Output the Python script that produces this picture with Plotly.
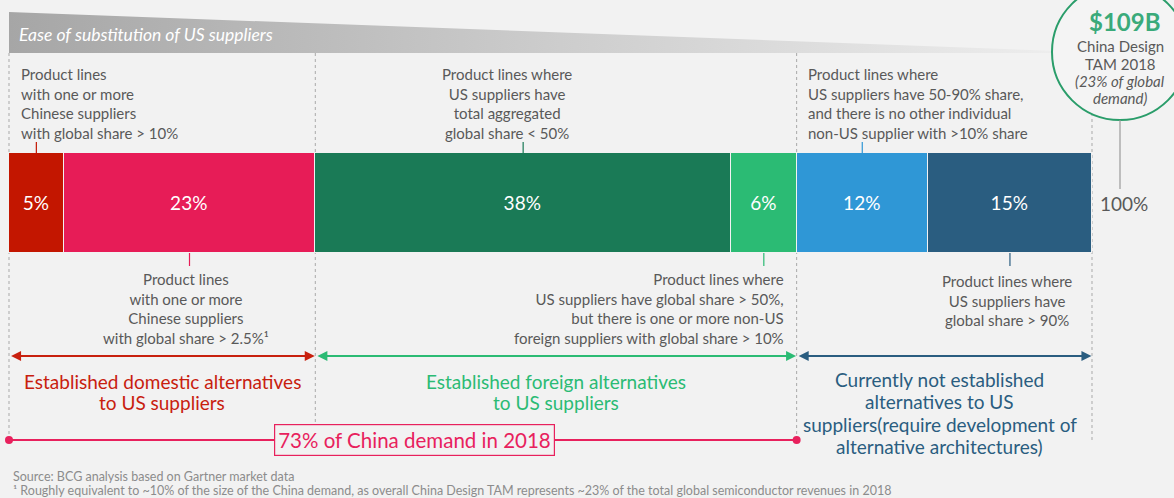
import plotly.graph_objects as go

# ---------------- data ----------------
segments = ["Chinese suppliers >10%", "Chinese suppliers >2.5%", "US aggregated share <50%",
            "US share >50%, foreign >10%", "US share 50-90%", "US share >90%"]
values = [5, 23, 38, 6, 12, 15]
bar_labels = ["5%", "23%", "38%", "6%", "12%", "15%"]
total_label = "100%"

top_notes = [
    "Product lines<br>with one or more<br>Chinese suppliers<br>with global share > 10%",
    "Product lines where<br>US suppliers have<br>total aggregated<br>global share < 50%",
    "Product lines where<br>US suppliers have 50-90% share,<br>and there is no other individual<br>non-US supplier with >10% share",
]
bottom_notes = [
    "Product lines<br>with one or more<br>Chinese suppliers<br>with global share > 2.5%¹",
    "Product lines where<br>US suppliers have global share > 50%,<br>but there is one or more non-US<br>foreign suppliers with global share > 10%",
    "Product lines where<br>US suppliers have<br>global share > 90%",
]
groups = [["Established domestic alternatives", "to US suppliers"],
          ["Established foreign alternatives", "to US suppliers"],
          ["Currently not established", "alternatives to US",
           "suppliers(require development of", "alternative architectures)"]]
group_ends = [2, 4, 6]  # segment index boundaries
demand_label = "73% of China demand in 2018"
header = "Ease of substitution of US suppliers"
tam_lines = ["$109B", "China Design", "TAM 2018", "(23% of global", "demand)"]
source = "Source: BCG analysis based on Gartner market data"
footnote = "¹ Roughly equivalent to ~10% of the size of the China demand, as overall China Design TAM represents ~23% of the total global semiconductor revenues in 2018"

# ---------------- styles ----------------
colors = ["#c31600", "#e71c57", "#1a7a56", "#2bbb74", "#2f97d6", "#2a5d80"]
group_colors = ["#c8200e", "#2bbb74", "#2a5d80"]
PINK = "#e8215d"
GRAY = "#595959"
BG = "#f2f2f2"
FONT = "Lato"

W, H = 1174, 498
X0, X1 = 9, 1092
total = sum(values)
S = (X1 - X0) / total


def dx(px):
    return (px - X0) / S


cum = [0]
for v in values:
    cum.append(cum[-1] + v)
centers = [(cum[i] + cum[i + 1]) / 2 for i in range(len(values))]

BAR_Y = 203
BAR_TOP, BAR_BOT = 153, 253

fig = go.Figure()

# header gradient wedge
fig.add_trace(go.Scatter(
    x=[dx(9), dx(1112), dx(9), dx(9)], y=[12, 53, 53, 12],
    mode="lines", fill="toself", line=dict(width=0),
    fillgradient=dict(type="horizontal",
                      colorscale=[[0, "#a6a6a6"], [0.5, "#cdcdcd"], [1, "#f1f1f1"]]),
    hoverinfo="skip", showlegend=False))

for name, v, lab, c in zip(segments, values, bar_labels, colors):
    fig.add_trace(go.Bar(
        x=[v], y=[BAR_Y], orientation="h", width=BAR_BOT - BAR_TOP, name=name,
        marker=dict(color=c, line=dict(color=BG, width=1.5)),
        text=[lab], textposition="inside", insidetextanchor="middle", textangle=0,
        textfont=dict(color="white", size=19, family=FONT),
        hoverinfo="skip", showlegend=False))

# pink 73% line
fig.add_trace(go.Scatter(
    x=[0, cum[group_ends[1]]], y=[440, 440], mode="lines+markers",
    line=dict(color=PINK, width=2), marker=dict(color=PINK, size=8),
    hoverinfo="skip", showlegend=False))

shapes = []
annotations = []

# dashed dividers
bounds = [0] + [cum[g] for g in group_ends]
dash_bottoms = [440, 424, 440, 440]
for b, yb in zip(bounds, dash_bottoms):
    shapes.append(dict(type="line", xref="x", yref="y", x0=b, x1=b, y0=53, y1=yb,
                       line=dict(color="#a9a9a9", width=1, dash="dot"), layer="below"))

# group arrows and labels
starts = [0] + [cum[g] for g in group_ends[:-1]]
group_y0 = [381, 381, 379]
group_dy = [21, 21, 22.5]
for gi, (s, g, gc, gt) in enumerate(zip(starts, group_ends, group_colors, groups)):
    e = cum[g]
    annotations.append(dict(x=e - 0.05, y=356, ax=s + 0.05, ay=356, xref="x", yref="y",
                            axref="x", ayref="y", text="", showarrow=True,
                            arrowhead=2, arrowside="end+start", arrowsize=1,
                            arrowwidth=2, arrowcolor=gc, standoff=0, startstandoff=0))
    for li, line in enumerate(gt):
        annotations.append(dict(x=(s + e) / 2 + (0 if gi < 2 else -0.4),
                                y=group_y0[gi] + li * group_dy[gi], xref="x", yref="y",
                                text=line, showarrow=False, align="center",
                                font=dict(color=gc, size=19, family=FONT)))

# 73% box
annotations.append(dict(x=dx(414), y=440, xref="x", yref="y", text=demand_label,
                        showarrow=False, bgcolor=BG, bordercolor=PINK, borderwidth=1.2,
                        borderpad=3, font=dict(color=PINK, size=20.5, family=FONT)))

# top notes + connectors
top_idx = [0, 2, 4]
top_x = [dx(19), dx(507), dx(806)]
top_anchor = ["left", "center", "left"]
for n, i, xx, an in zip(top_notes, top_idx, top_x, top_anchor):
    annotations.append(dict(x=xx, y=103, xref="x", yref="y", text=n, showarrow=False,
                            xanchor=an, align=an, font=dict(color=GRAY, size=15, family=FONT)))
    shapes.append(dict(type="line", xref="x", yref="y", x0=centers[i], x1=centers[i],
                       y0=142, y1=BAR_TOP, line=dict(color=colors[i], width=1.2)))

# bottom notes + connectors
bot_idx = [1, 3, 5]
bot_x = [dx(186), dx(786), dx(1007)]
bot_anchor = ["center", "right", "center"]
bot_y = [308, 308, 300]
for n, i, xx, an, yy in zip(bottom_notes, bot_idx, bot_x, bot_anchor, bot_y):
    annotations.append(dict(x=xx, y=yy, xref="x", yref="y", text=n, showarrow=False,
                            xanchor=an, align="center" if an == "center" else "right",
                            font=dict(color=GRAY, size=15, family=FONT)))
    shapes.append(dict(type="line", xref="x", yref="y", x0=centers[i], x1=centers[i],
                       y0=BAR_BOT, y1=266, line=dict(color=colors[i], width=1.2)))

# 100%
annotations.append(dict(x=dx(1098), y=BAR_Y, xref="x", yref="y", text=total_label,
                        showarrow=False, xanchor="left",
                        font=dict(color=GRAY, size=19, family=FONT)))

# header text
annotations.append(dict(x=dx(17), y=34, xref="x", yref="y", text=header, showarrow=False,
                        xanchor="left", font=dict(color="white", size=17.5, family=FONT, style="italic")))

# TAM circle
shapes.append(dict(type="circle", xref="x", yref="y", x0=dx(1052), x1=dx(1188),
                   y0=-16, y1=120, line=dict(color="#2a9d6a", width=2), fillcolor="#f4f4f4",
                   layer="above"))
shapes.append(dict(type="line", xref="x", yref="y", x0=dx(1120), x1=dx(1120), y0=120, y1=189,
                   line=dict(color="#9a9a9a", width=1.2)))
annotations.append(dict(x=dx(1125), y=21, xref="x", yref="y", text="<b>" + tam_lines[0] + "</b>",
                        showarrow=False, font=dict(color="#3aaa7a", size=24, family=FONT)))
for t, yy, it in zip(tam_lines[1:], [46, 64, 81, 98], [False, False, True, True]):
    annotations.append(dict(x=dx(1120), y=yy, xref="x", yref="y", text=t, showarrow=False,
                            font=dict(color=GRAY, size=15, family=FONT,
                                      style="italic" if it else "normal")))

# source + footnote
annotations.append(dict(x=dx(11), y=476, xref="x", yref="y", text=source, showarrow=False,
                        xanchor="left", font=dict(color="#8c8c8c", size=12.5, family=FONT)))
annotations.append(dict(x=dx(11), y=490, xref="x", yref="y", text=footnote, showarrow=False,
                        xanchor="left", font=dict(color="#8c8c8c", size=12.5, family=FONT)))

fig.update_layout(
    width=W, height=H, margin=dict(l=0, r=0, t=0, b=0),
    paper_bgcolor=BG, plot_bgcolor=BG, barmode="stack", bargap=0,
    xaxis=dict(range=[dx(0), dx(W)], visible=False, fixedrange=True),
    yaxis=dict(range=[H, 0], visible=False, fixedrange=True),
    shapes=shapes, annotations=annotations, showlegend=False,
    font=dict(family=FONT, color=GRAY),
)

fig.write_html("out.html", config={"displayModeBar": False},
               post_script="document.body.style.margin='0';document.body.style.overflow='hidden';"
                           "document.body.style.background='#f2f2f2';")
